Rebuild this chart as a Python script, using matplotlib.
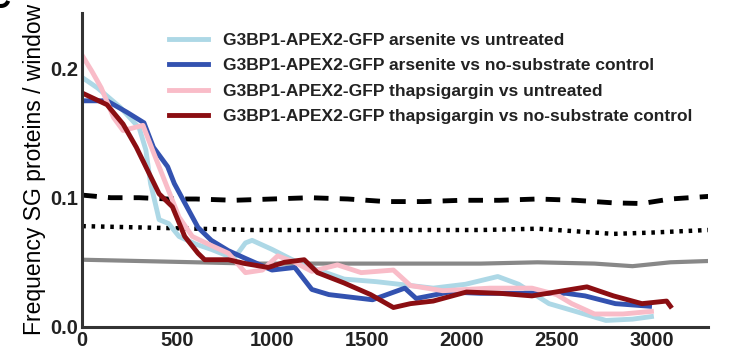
import matplotlib.pyplot as plt

# window start position vs frequency of SG proteins
ars_untr_x = [0, 80, 200, 300, 335, 360, 405, 455, 510, 600, 680, 800, 860, 895, 1000, 1120, 1245, 1380, 1550, 1730,
              1850, 2020, 2190, 2300, 2460, 2600, 2760, 2900, 3000]
ars_untr_y = [0.193, 0.185, 0.17, 0.154, 0.137, 0.111, 0.083, 0.08, 0.07, 0.064, 0.06, 0.053, 0.065, 0.067, 0.06, 0.051,
              0.044, 0.037, 0.035, 0.032, 0.03, 0.033, 0.039, 0.033, 0.018, 0.012, 0.005, 0.006, 0.008]

ars_nosub_x = [0, 130, 237, 325, 375, 450, 485, 540, 610, 680, 770, 860, 1000, 1120, 1210, 1300, 1530, 1700, 1760,
               1935, 2100, 2370, 2550, 2650, 2810, 2990]
ars_nosub_y = [0.175, 0.175, 0.166, 0.158, 0.139, 0.124, 0.111, 0.096, 0.077, 0.067, 0.059, 0.053, 0.044, 0.046, 0.029,
               0.025, 0.021, 0.03, 0.022, 0.027, 0.026, 0.026, 0.026, 0.024, 0.018, 0.016]

thap_untr_x = [0, 50, 100, 165, 215, 320, 370, 440, 510, 580, 680, 770, 860, 950, 1030, 1120, 1210, 1345, 1470, 1640,
               1730, 1900, 2150, 2370, 2500, 2580, 2700, 2850, 3000]
thap_untr_y = [0.21, 0.198, 0.185, 0.162, 0.152, 0.156, 0.137, 0.111, 0.085, 0.07, 0.063, 0.057, 0.042, 0.044, 0.055,
               0.05, 0.043, 0.048, 0.042, 0.044, 0.032, 0.028, 0.03, 0.03, 0.025, 0.018, 0.01, 0.01, 0.012]

thap_nosub_x = [0, 130, 215, 285, 335, 405, 475, 540, 610, 645, 770, 860, 980, 1065, 1170, 1240, 1380, 1520, 1640,
                1730, 1850, 2025, 2200, 2370, 2660, 2800, 2950, 3080, 3100]
thap_nosub_y = [0.181, 0.172, 0.157, 0.139, 0.124, 0.103, 0.093, 0.07, 0.057, 0.052, 0.052, 0.049, 0.046, 0.05, 0.052,
                0.042, 0.034, 0.025, 0.015, 0.018, 0.02, 0.027, 0.026, 0.024, 0.031, 0.024, 0.018, 0.02, 0.016]

dash_x = [0, 150, 300, 450, 600, 800, 1000, 1200, 1400, 1600, 1800, 2000, 2200, 2400, 2600, 2800, 2950, 3100, 3300]
dash_y = [0.102, 0.1, 0.1, 0.099, 0.099, 0.098, 0.099, 0.1, 0.099, 0.097, 0.097, 0.098, 0.098, 0.099, 0.098, 0.096,
          0.0955, 0.099, 0.101]

dot_x = [0, 300, 600, 900, 1200, 1500, 1800, 2100, 2400, 2600, 2800, 3000, 3300]
dot_y = [0.078, 0.077, 0.076, 0.075, 0.075, 0.075, 0.075, 0.075, 0.076, 0.074, 0.072, 0.073, 0.075]

gray_x = [0, 300, 600, 900, 1200, 1500, 1800, 2100, 2400, 2700, 2900, 3100, 3300]
gray_y = [0.052, 0.051, 0.05, 0.049, 0.049, 0.049, 0.049, 0.049, 0.05, 0.049, 0.047, 0.05, 0.051]

labels = ["G3BP1-APEX2-GFP arsenite vs untreated",
          "G3BP1-APEX2-GFP arsenite vs no-substrate control",
          "G3BP1-APEX2-GFP thapsigargin vs untreated",
          "G3BP1-APEX2-GFP thapsigargin vs no-substrate control"]
colors = ["#add8e6", "#3352b0", "#f9bcc8", "#8b0e12"]

plt.rcParams['font.family'] = ['Liberation Sans', 'DejaVu Sans']

fig = plt.figure(figsize=(7.48, 3.5), dpi=100)
ax = fig.add_axes([0.11, 0.066, 0.837, 0.897])

ax.plot(gray_x, gray_y, color="#888888", lw=3)
ax.plot(dot_x, dot_y, color="black", lw=3.2, dashes=(0.8, 1.3))
ax.plot(dash_x, dash_y, color="black", lw=3.5, dashes=(3, 2.3))

series = [(ars_untr_x, ars_untr_y), (ars_nosub_x, ars_nosub_y),
          (thap_untr_x, thap_untr_y), (thap_nosub_x, thap_nosub_y)]
for (xs, ys), c, lab in zip(series, colors, labels):
    ax.plot(xs, ys, color=c, lw=3.5, label=lab)

ax.set_xlim(0, 3300)
ax.set_ylim(0, 0.243)
ax.set_xticks([0, 500, 1000, 1500, 2000, 2500, 3000])
ax.set_yticks([0.0, 0.1, 0.2])
ax.set_yticklabels(["0.0", "0.1", "0.2"])
ax.tick_params(length=0, labelsize=14.5, pad=3, colors="#222222")
for t in ax.get_xticklabels() + ax.get_yticklabels():
    t.set_fontweight("bold")
for s in ["top", "right"]:
    ax.spines[s].set_visible(False)
for s in ["left", "bottom"]:
    ax.spines[s].set_linewidth(2.2)
    ax.spines[s].set_color("#333333")

ax.set_ylabel("Frequency SG proteins / window", fontsize=16.5, labelpad=3)

leg = ax.legend(loc="upper left", bbox_to_anchor=(0.128, 0.96), frameon=False, fontsize=12.5,
                handlelength=2.2, handletextpad=0.9, labelspacing=0.6, borderaxespad=0)
for t in leg.get_texts():
    t.set_fontweight("bold")
    t.set_color("#222222")

fig.text(0.0, 1.0, "C", fontsize=22, fontweight="bold", va="center", ha="center")

fig.savefig("out.png", dpi=100)
